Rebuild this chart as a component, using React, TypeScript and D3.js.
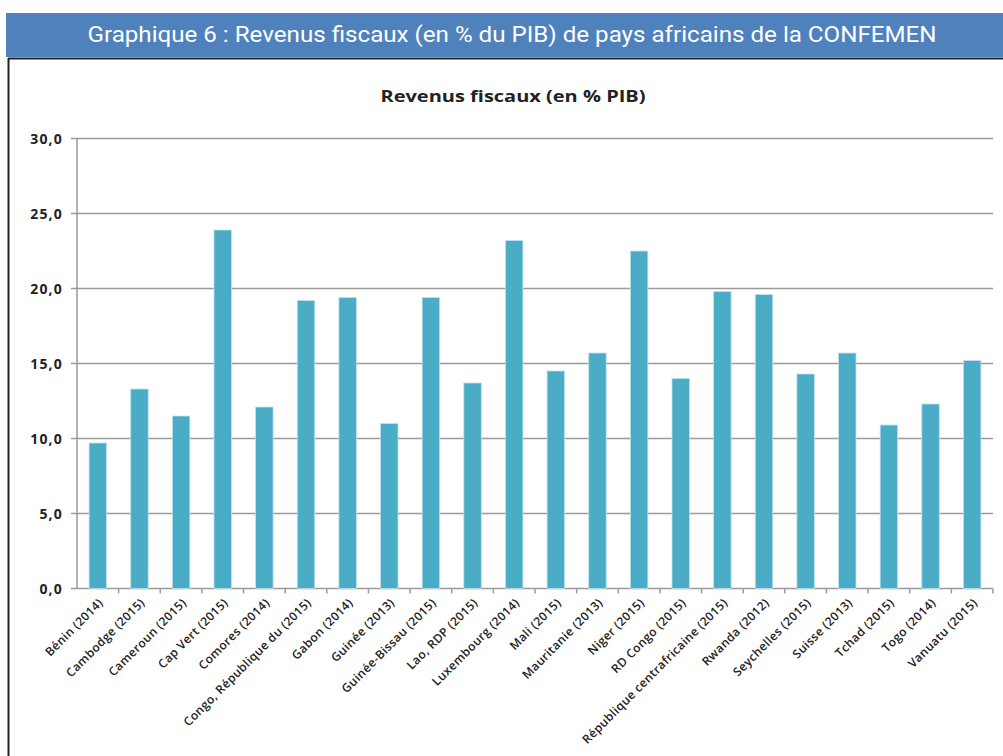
import React from "react";
import * as d3 from "d3";

const categories = [
  "Bénin (2014)", "Cambodge (2015)", "Cameroun (2015)", "Cap Vert (2015)", "Comores (2014)",
  "Congo, République du (2015)", "Gabon (2014)", "Guinée (2013)", "Guinée-Bissau (2015)",
  "Lao, RDP (2015)", "Luxembourg (2014)", "Mali (2015)", "Mauritanie (2013)", "Niger (2015)",
  "RD Congo (2015)", "République centrafricaine (2015)", "Rwanda (2012)", "Seychelles (2015)",
  "Suisse (2013)", "Tchad (2015)", "Togo (2014)", "Vanuatu (2015)",
];
const values = [9.7, 13.3, 11.5, 23.9, 12.1, 19.2, 19.4, 11.0, 19.4, 13.7, 23.2, 14.5, 15.7, 22.5, 14.0, 19.8, 19.6, 14.3, 15.7, 10.9, 12.3, 15.2];
const yTicks = [0, 5, 10, 15, 20, 25, 30];

const W = 1003, H = 756;
const M = { left: 77, right: 993, top: 138.5, bottom: 588.5 };

export default function App() {
  const x = d3.scaleBand<string>().domain(categories).range([M.left, M.right]).paddingInner(0.58).paddingOuter(0.29);
  const y = d3.scaleLinear().domain([0, 30]).range([M.bottom, M.top]);
  const step = (M.right - M.left) / categories.length;
  const fmt = (v: number) => v.toFixed(1).replace(".", ",");
  return (
    <svg width={W} height={H} style={{ position: "absolute", left: 0, top: 0, background: "#fff" }}>
      <rect x={0} y={0} width={W} height={H} fill="#fff" />
      <rect x={6} y={13} width={W - 6} height={44} fill="#4f81bd" />
      <text x={512} y={42} textAnchor="middle" fill="#fff" fontFamily="Roboto" fontSize={22}
        textLength={849} lengthAdjust="spacingAndGlyphs">
        Graphique 6 : Revenus fiscaux (en % du PIB) de pays africains de la CONFEMEN
      </text>
      <line x1={8} y1={58.5} x2={W} y2={58.5} stroke="#222" strokeWidth={2} />
      <line x1={8.5} y1={58} x2={8.5} y2={H} stroke="#222" strokeWidth={2} />
      <text x={513} y={102} textAnchor="middle" fontFamily="Open Sans" fontWeight="bold" fontSize={16} fill="#222"
        textLength={265} lengthAdjust="spacingAndGlyphs">
        Revenus fiscaux  (en % PIB)
      </text>
      {yTicks.map((t) => (
        <g key={t}>
          <line x1={M.left} x2={M.right} y1={y(t)} y2={y(t)} stroke="#9a9a9a" strokeWidth={1.5} />
          <line x1={M.left - 6} x2={M.left} y1={y(t)} y2={y(t)} stroke="#9a9a9a" strokeWidth={1.5} />
          <text x={63} y={y(t) + 5} textAnchor="end" fontFamily="Open Sans" fontWeight="bold" fontSize={14}
            letterSpacing={1.2} fill="#222">
            {fmt(t)}
          </text>
        </g>
      ))}
      <line x1={M.left} x2={M.left} y1={M.top} y2={M.bottom} stroke="#9a9a9a" strokeWidth={1.5} />
      {categories.map((c, i) => (
        <line key={"tk" + i} x1={M.left + step * (i + 1)} x2={M.left + step * (i + 1)} y1={M.bottom} y2={M.bottom + 5} stroke="#9a9a9a" strokeWidth={1.5} />
      ))}
      {categories.map((c, i) => (
        <rect key={"b" + i} x={x(c)} y={y(values[i])} width={x.bandwidth()} height={y(0) - y(values[i])}
          fill="#4bacc6" stroke="#bfe3ee" strokeWidth={0.8} />
      ))}
      {categories.map((c, i) => {
        const cx = (x(c) as number) + x.bandwidth() / 2 + 6;
        return (
          <text key={"l" + i} transform={`translate(${cx},${M.bottom + 15}) rotate(-45)`} textAnchor="end"
            fontFamily="Open Sans" fontWeight={600} fontSize={12} letterSpacing={0.35} fill="#222">
            {c}
          </text>
        );
      })}
    </svg>
  );
}
